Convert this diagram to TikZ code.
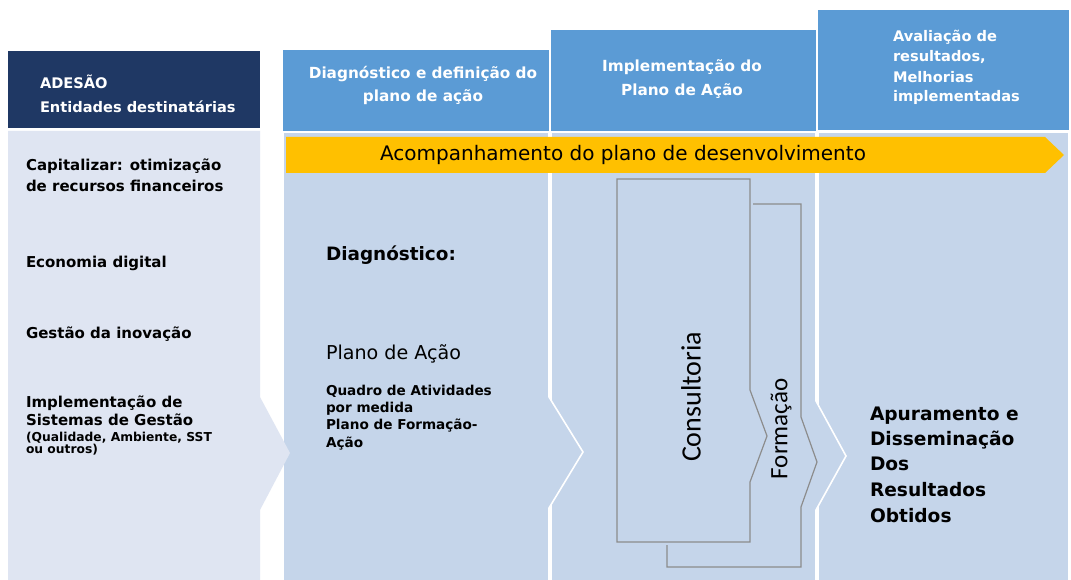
\documentclass[tikz,border=0pt]{standalone}
\usepackage{fontspec}
\setmainfont{DejaVu Sans}
\newfontfamily\calibfont{Carlito}
\definecolor{navy}{HTML}{1F3864}
\definecolor{hdrblue}{HTML}{5B9BD5}
\definecolor{panelblue}{HTML}{C5D5EA}
\definecolor{leftpanel}{HTML}{DFE5F2}
\definecolor{arrowyellow}{HTML}{FFC000}
\definecolor{linegray}{HTML}{8C8C8C}
\tikzset{
  txt/.style={inner sep=0pt, outer sep=0pt},
  hdrtxt/.style={txt, text=white, font=\bfseries\fontsize{15}{18}\selectfont},
  itemtxt/.style={txt, anchor=base west, text=black, font=\bfseries\fontsize{15}{18}\selectfont},
  smalltxt/.style={txt, anchor=base west, text=black, font=\bfseries\fontsize{12.3}{14}\selectfont},
  subtxt/.style={txt, anchor=base west, text=black, font=\bfseries\fontsize{13.6}{16}\selectfont},
  restxt/.style={txt, anchor=base west, text=black, font=\bfseries\fontsize{18.6}{22}\selectfont},
  panelshape/.style={fill=panelblue, draw=white, line width=1.6pt},
  grayline/.style={draw=linegray, line width=1.2pt, line join=miter}
}
\begin{document}
\begin{tikzpicture}[x=1pt,y=-1pt]
\useasboundingbox (0,0) rectangle (1071,580);
\fill[white] (0,0) rectangle (1071,580);

% headers
\fill[navy] (8,51) rectangle (260,128);
\fill[hdrblue] (283,50) rectangle (549,131);
\fill[hdrblue] (551,30) rectangle (816,131);
\fill[hdrblue] (818,10) rectangle (1069,130);

% body panels
\path[panelshape] (818,132) rectangle (1069,581);
\path[panelshape] (551,132) -- (816,132) -- (816,401) -- (846,456) -- (816,510) -- (816,581) -- (551,581) -- cycle;
\path[panelshape] (283,132) -- (549,132) -- (549,397) -- (583,452) -- (549,508) -- (549,581) -- (283,581) -- cycle;
\fill[leftpanel] (8,131) -- (260,131) -- (260,397) -- (290,453) -- (260,510) -- (260,580) -- (8,580) -- cycle;

% yellow arrow
\fill[arrowyellow] (286,137) -- (1045,137) -- (1064,155) -- (1045,173) -- (286,173) -- cycle;
\node[txt, anchor=base, font=\fontsize{20}{24}\selectfont] (acomp) at (623,161) {Acompanhamento do plano de desenvolvimento};

% header texts
\node[hdrtxt, anchor=base west, font=\bfseries\fontsize{14.6}{18}\selectfont] (h1a) at (40,89) {ADESÃO};
\node[hdrtxt, anchor=base west, font=\bfseries\fontsize{14.6}{18}\selectfont] (h1b) at (40,113) {Entidades destinatárias};
\node[hdrtxt, anchor=base, font=\bfseries\fontsize{15.3}{18}\selectfont] (h2a) at (423,79) {Diagnóstico e definição do};
\node[hdrtxt, anchor=base, font=\bfseries\fontsize{15.3}{18}\selectfont] (h2b) at (423,102) {plano de ação};
\node[hdrtxt, anchor=base, font=\bfseries\fontsize{15.3}{18}\selectfont] (h3a) at (682,72) {Implementação do};
\node[hdrtxt, anchor=base, font=\bfseries\fontsize{15.3}{18}\selectfont] (h3b) at (682,96) {Plano de Ação};
\node[hdrtxt, anchor=base west, font=\bfseries\fontsize{14.6}{18}\selectfont] (h4a) at (893,42) {Avaliação de};
\node[hdrtxt, anchor=base west, font=\bfseries\fontsize{14.6}{18}\selectfont] (h4b) at (893,62) {resultados,};
\node[hdrtxt, anchor=base west, font=\bfseries\fontsize{14.6}{18}\selectfont] (h4c) at (893,83) {Melhorias};
\node[hdrtxt, anchor=base west, font=\bfseries\fontsize{14.6}{18}\selectfont] (h4d) at (893,102) {implementadas};

% left panel items
\node[itemtxt] (l1a) at (26,171) {Capitalizar: otimização};
\node[itemtxt] (l1b) at (26,192) {de recursos financeiros};
\node[itemtxt] (l2) at (26,268) {Economia digital};
\node[itemtxt] (l3) at (26,338) {Gestão da inovação};
\node[itemtxt] (l4a) at (26,407) {Implementação de};
\node[itemtxt] (l4b) at (26,425) {Sistemas de Gestão};
\node[smalltxt] (l4c) at (26,441) {(Qualidade, Ambiente, SST};
\node[smalltxt] (l4d) at (26,453) {ou outros)};

% panel 2 texts
\node[txt, anchor=base west, font=\bfseries\fontsize{18.4}{22}\selectfont] (diag) at (326,261) {Diagnóstico:};
\node[txt, anchor=base west, font=\fontsize{19.1}{22}\selectfont] (plano) at (326,359) {Plano de Ação};
\node[subtxt] (q1) at (326,395) {Quadro de Atividades};
\node[subtxt] (q2) at (326,412) {por medida};
\node[subtxt] (q3) at (326,429) {Plano de Formação-};
\node[subtxt] (q4) at (326,447) {Ação};

% panel 3: consultoria / formacao
\path[grayline] (753,204) -- (801,204) -- (801,417) -- (817,462) -- (801,507) -- (801,567) -- (667,567) -- (667,545);
\path[grayline] (617,179) -- (750,179) -- (750,390) -- (767,436) -- (750,482) -- (750,542) -- (617,542) -- cycle;
\node[txt, rotate=90, font=\calibfont\fontsize{28}{32}\selectfont] (cons) at (691,397) {Consultoria};
\node[txt, rotate=90, font=\calibfont\fontsize{25}{30}\selectfont] (form) at (781,429) {Formação};

% panel 4 texts
\node[restxt] (r1) at (870,420) {Apuramento e};
\node[restxt] (r2) at (870,445) {Disseminação};
\node[restxt] (r3) at (870,470) {Dos};
\node[restxt] (r4) at (870,496) {Resultados};
\node[restxt] (r5) at (870,522) {Obtidos};
\end{tikzpicture}
\end{document}
